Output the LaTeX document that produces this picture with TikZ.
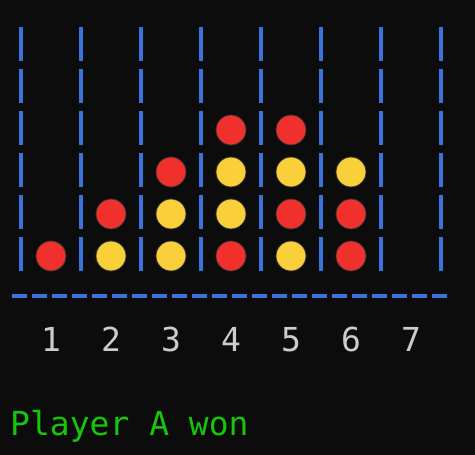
\documentclass[tikz,border=0pt]{standalone}
\usepackage{fontspec}
\setmonofont{DejaVu Sans Mono}
\usepackage{xcolor}
\definecolor{termbg}{HTML}{0C0C0C}
\definecolor{barblue}{HTML}{3A72DE}
\definecolor{discred}{HTML}{F0302C}
\definecolor{discyellow}{HTML}{FAD03A}
\definecolor{digitgray}{HTML}{CCCCCC}
\definecolor{wongreen}{HTML}{16C60C}
\tikzset{
  disc/.style={circle, draw=black!80, line width=0.8pt, inner sep=0pt, minimum size=30pt},
  reddisc/.style={disc, fill=discred},
  yellowdisc/.style={disc, fill=discyellow},
  bar/.style={barblue, line width=4pt, dash pattern=on 34pt off 8pt},
  floor/.style={barblue, line width=4pt, dash pattern=on 15pt off 5pt},
  digit/.style={digitgray, inner sep=0pt, font=\ttfamily\fontsize{33}{40}\selectfont}
}

\begin{document}
\begin{tikzpicture}[x=1pt, y=-1pt]
      \fill[termbg] (0,0) rectangle (475,455);
      \useasboundingbox (0,0) rectangle (475,455);

      \coordinate (b1t) at (21,27);  \coordinate (b1b) at (21,271);
      \coordinate (b2t) at (81,27);  \coordinate (b2b) at (81,271);
      \coordinate (b3t) at (141,27); \coordinate (b3b) at (141,271);
      \coordinate (b4t) at (201,27); \coordinate (b4b) at (201,271);
      \coordinate (b5t) at (261,27); \coordinate (b5b) at (261,271);
      \coordinate (b6t) at (321,27); \coordinate (b6b) at (321,271);
      \coordinate (b7t) at (381,27); \coordinate (b7b) at (381,271);
      \coordinate (b8t) at (441,27); \coordinate (b8b) at (441,271);
      \draw[bar] (b1t) -- (b1b);
      \draw[bar] (b2t) -- (b2b);
      \draw[bar] (b3t) -- (b3b);
      \draw[bar] (b4t) -- (b4b);
      \draw[bar] (b5t) -- (b5b);
      \draw[bar] (b6t) -- (b6b);
      \draw[bar] (b7t) -- (b7b);
      \draw[bar] (b8t) -- (b8b);

      \coordinate (fl) at (12,296);
      \coordinate (fr) at (448,296);
      \draw[floor] (fl) -- (fr);

      \node[reddisc] (c11) at (51,256) {};

      \node[yellowdisc] (c21) at (111,256) {};
      \node[reddisc] (c22) at (111,214) {};

      \node[yellowdisc] (c31) at (171,256) {};
      \node[yellowdisc] (c32) at (171,214) {};
      \node[reddisc] (c33) at (171,172) {};

      \node[reddisc] (c41) at (231,256) {};
      \node[yellowdisc] (c42) at (231,214) {};
      \node[yellowdisc] (c43) at (231,172) {};
      \node[reddisc] (c44) at (231,130) {};

      \node[yellowdisc] (c51) at (291,256) {};
      \node[reddisc] (c52) at (291,214) {};
      \node[yellowdisc] (c53) at (291,172) {};
      \node[reddisc] (c54) at (291,130) {};

      \node[reddisc] (c61) at (351,256) {};
      \node[reddisc] (c62) at (351,214) {};
      \node[yellowdisc] (c63) at (351,172) {};

      \node[digit] (n1) at (51,339.5) {1};
      \node[digit] (n2) at (111,339.5) {2};
      \node[digit] (n3) at (171,339.5) {3};
      \node[digit] (n4) at (231,339.5) {4};
      \node[digit] (n5) at (291,339.5) {5};
      \node[digit] (n6) at (351,339.5) {6};
      \node[digit] (n7) at (411,339.5) {7};

      \node[digit, wongreen, anchor=base west] (won) at (10,435) {Player A won};
    \end{tikzpicture}
\end{document}
